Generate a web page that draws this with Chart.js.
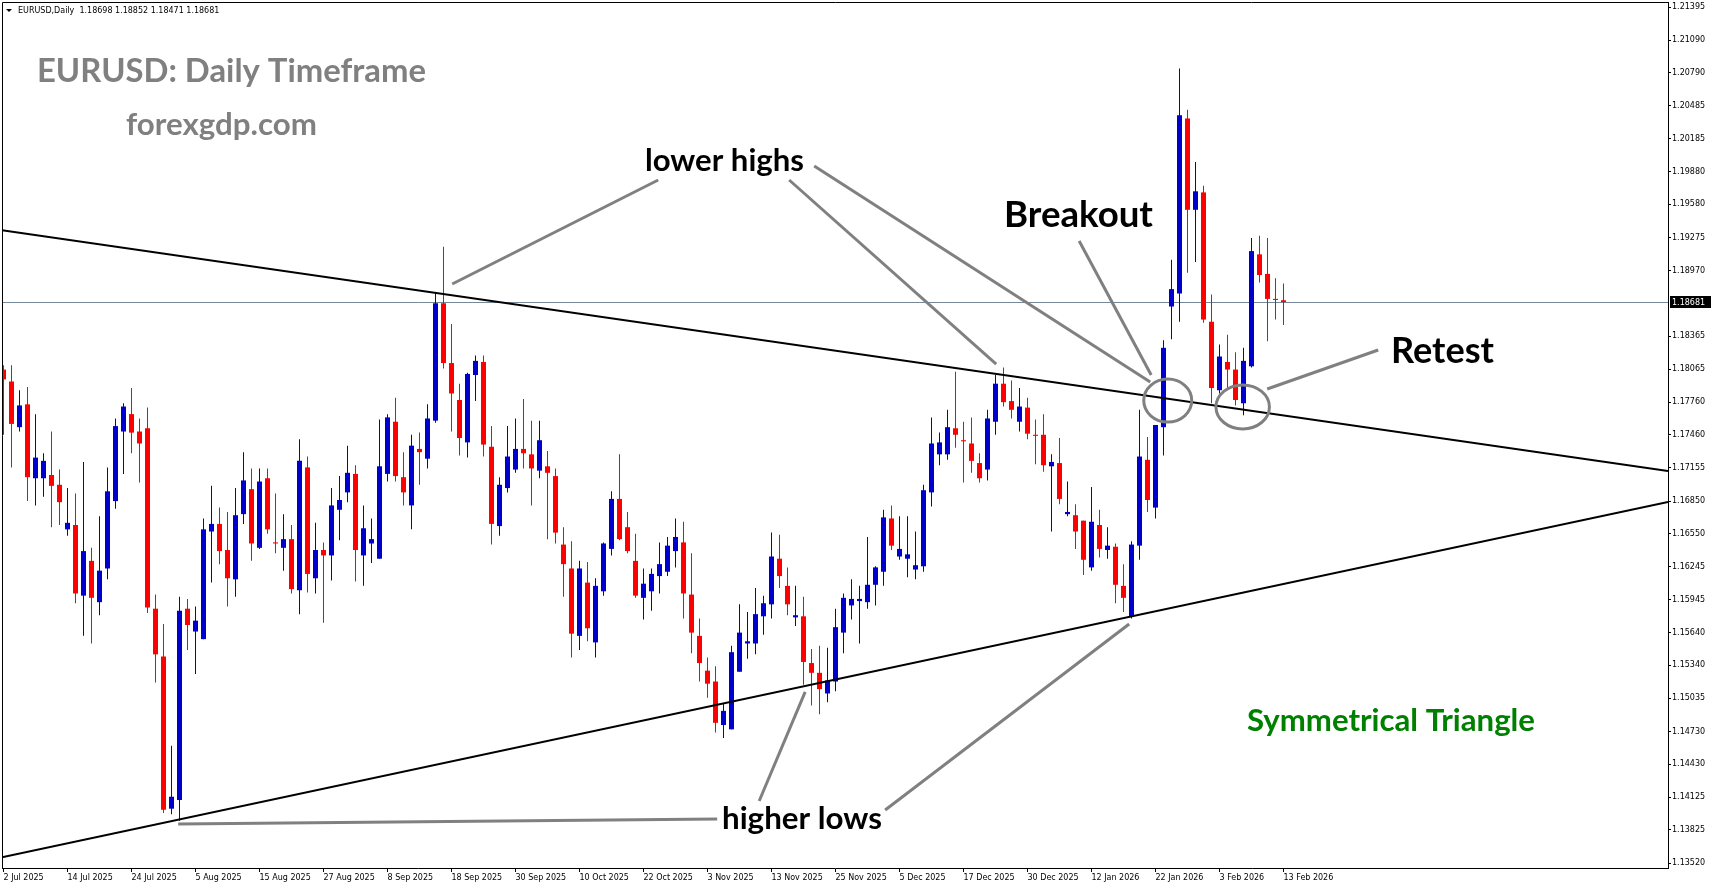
<!DOCTYPE html>
<html>
<head>
<meta charset="utf-8">
<title>EURUSD Daily - Symmetrical Triangle</title>
<script src="https://cdn.jsdelivr.net/npm/chart.js"></script>
<style>
  html, body { margin: 0; padding: 0; background: #fff; overflow: hidden; }
  canvas { display: block; }
</style>
</head>
<body>
<canvas id="chart" width="1713" height="888"></canvas>
<script>
// daily candles, 2 Jul 2025 .. 13 Feb 2026
const opens = [
  1.1806, 1.1795, 1.1753, 1.1774, 1.1706, 1.1706, 1.1709, 1.1700, 1.1659, 1.1663,
  1.1598, 1.1630, 1.1592, 1.1623, 1.1685, 1.1749, 1.1765, 1.1749, 1.1752, 1.1586,
  1.1542, 1.1402, 1.1410, 1.1586, 1.1565, 1.1558, 1.1657, 1.1664, 1.1640, 1.1613,
  1.1673, 1.1696, 1.1642, 1.1706, 1.1647, 1.1642, 1.1650, 1.1603, 1.1716, 1.1614,
  1.1640, 1.1635, 1.1677, 1.1693, 1.1710, 1.1635, 1.1646, 1.1632, 1.1710, 1.1758,
  1.1707, 1.1681, 1.1733, 1.1724, 1.1759, 1.1867, 1.1812, 1.1778, 1.1739, 1.1801,
  1.1813, 1.1735, 1.1662, 1.1697, 1.1714, 1.1733, 1.1728, 1.1713, 1.1717, 1.1708,
  1.1645, 1.1623, 1.1561, 1.1610, 1.1555, 1.1602, 1.1641, 1.1687, 1.1661, 1.1630,
  1.1596, 1.1602, 1.1616, 1.1620, 1.1639, 1.1647, 1.1599, 1.1561, 1.1529, 1.1519,
  1.1479, 1.1475, 1.1528, 1.1554, 1.1554, 1.1579, 1.1590, 1.1632, 1.1607, 1.1578,
  1.1579, 1.1536, 1.1527, 1.1508, 1.1519, 1.1564, 1.1589, 1.1593, 1.1592, 1.1608,
  1.1620, 1.1669, 1.1634, 1.1632, 1.1622, 1.1625, 1.1693, 1.1728, 1.1728, 1.1752,
  1.1741, 1.1738, 1.1720, 1.1714, 1.1758, 1.1793, 1.1777, 1.1758, 1.1771, 1.1746,
  1.1746, 1.1717, 1.1720, 1.1673, 1.1672, 1.1667, 1.1624, 1.1663, 1.1640, 1.1643,
  1.1607, 1.1579, 1.1644, 1.1723, 1.1679, 1.1753, 1.1864, 1.1876, 1.2037, 1.1953,
  1.1969, 1.1850, 1.1787, 1.1813, 1.1806, 1.1775, 1.1809, 1.1912, 1.1894, 1.1871,
  1.18698
];
const highs = [
  1.1810, 1.1810, 1.1787, 1.1790, 1.1765, 1.1729, 1.1749, 1.1714, 1.1697, 1.1692,
  1.1721, 1.1642, 1.1671, 1.1716, 1.1761, 1.1775, 1.1789, 1.1761, 1.1771, 1.1599,
  1.1572, 1.1460, 1.1597, 1.1595, 1.1588, 1.1669, 1.1699, 1.1679, 1.1675, 1.1697,
  1.1730, 1.1715, 1.1715, 1.1715, 1.1692, 1.1673, 1.1663, 1.1742, 1.1726, 1.1665,
  1.1647, 1.1697, 1.1708, 1.1736, 1.1718, 1.1681, 1.1669, 1.1760, 1.1765, 1.1780,
  1.1730, 1.1746, 1.1748, 1.1774, 1.1877, 1.1919, 1.1848, 1.1793, 1.1803, 1.1819,
  1.1819, 1.1754, 1.1707, 1.1754, 1.1761, 1.1779, 1.1759, 1.1759, 1.1731, 1.1715,
  1.1661, 1.1648, 1.1630, 1.1629, 1.1614, 1.1647, 1.1694, 1.1728, 1.1675, 1.1655,
  1.1623, 1.1623, 1.1647, 1.1652, 1.1669, 1.1666, 1.1637, 1.1577, 1.1541, 1.1533,
  1.1499, 1.1552, 1.1590, 1.1583, 1.1605, 1.1598, 1.1656, 1.1654, 1.1624, 1.1607,
  1.1597, 1.1549, 1.1552, 1.1550, 1.1586, 1.1600, 1.1613, 1.1607, 1.1652, 1.1625,
  1.1677, 1.1681, 1.1671, 1.1671, 1.1657, 1.1700, 1.1762, 1.1748, 1.1769, 1.1804,
  1.1758, 1.1762, 1.1729, 1.1769, 1.1801, 1.1808, 1.1796, 1.1789, 1.1780, 1.1760,
  1.1765, 1.1728, 1.1743, 1.1703, 1.1682, 1.1667, 1.1698, 1.1677, 1.1661, 1.1646,
  1.1627, 1.1648, 1.1769, 1.1744, 1.1755, 1.1833, 1.1907, 1.2083, 1.2045, 1.1997,
  1.1975, 1.1875, 1.1829, 1.1838, 1.1822, 1.1826, 1.1927, 1.1929, 1.1927, 1.1890,
  1.18852
];
const lows = [
  1.1746, 1.1716, 1.1749, 1.1685, 1.1681, 1.1689, 1.1661, 1.1663, 1.1653, 1.1591,
  1.1561, 1.1554, 1.1580, 1.1613, 1.1678, 1.1710, 1.1729, 1.1702, 1.1582, 1.1518,
  1.1398, 1.1397, 1.1391, 1.1548, 1.1526, 1.1558, 1.1610, 1.1627, 1.1588, 1.1597,
  1.1664, 1.1630, 1.1641, 1.1655, 1.1637, 1.1621, 1.1600, 1.1581, 1.1601, 1.1600,
  1.1573, 1.1612, 1.1649, 1.1684, 1.1611, 1.1607, 1.1628, 1.1632, 1.1703, 1.1703,
  1.1681, 1.1659, 1.1700, 1.1715, 1.1757, 1.1807, 1.1749, 1.1727, 1.1725, 1.1777,
  1.1726, 1.1645, 1.1653, 1.1693, 1.1711, 1.1715, 1.1681, 1.1706, 1.1650, 1.1646,
  1.1597, 1.1541, 1.1548, 1.1556, 1.1541, 1.1598, 1.1635, 1.1649, 1.1637, 1.1596,
  1.1576, 1.1584, 1.1600, 1.1616, 1.1624, 1.1577, 1.1545, 1.1519, 1.1504, 1.1472,
  1.1467, 1.1475, 1.1528, 1.1540, 1.1544, 1.1562, 1.1577, 1.1605, 1.1580, 1.1570,
  1.1516, 1.1497, 1.1489, 1.1500, 1.1510, 1.1545, 1.1576, 1.1554, 1.1586, 1.1589,
  1.1607, 1.1640, 1.1631, 1.1615, 1.1613, 1.1620, 1.1680, 1.1718, 1.1723, 1.1734,
  1.1702, 1.1711, 1.1702, 1.1704, 1.1746, 1.1772, 1.1761, 1.1749, 1.1742, 1.1719,
  1.1712, 1.1657, 1.1682, 1.1671, 1.1641, 1.1617, 1.1621, 1.1633, 1.1632, 1.1591,
  1.1583, 1.1577, 1.1631, 1.1675, 1.1669, 1.1727, 1.1834, 1.1850, 1.1895, 1.1905,
  1.1849, 1.1775, 1.1784, 1.1788, 1.1773, 1.1764, 1.1808, 1.1886, 1.1832, 1.1852,
  1.18471
];
const closes = [
  1.1797, 1.1756, 1.1773, 1.1707, 1.1725, 1.1722, 1.1699, 1.1684, 1.1665, 1.1600,
  1.1639, 1.1596, 1.1621, 1.1694, 1.1754, 1.1772, 1.1748, 1.1738, 1.1587, 1.1544,
  1.1401, 1.1413, 1.1584, 1.1571, 1.1575, 1.1659, 1.1664, 1.1639, 1.1614, 1.1672,
  1.1704, 1.1646, 1.1703, 1.1659, 1.1646, 1.1650, 1.1604, 1.1722, 1.1618, 1.1640,
  1.1635, 1.1681, 1.1686, 1.1711, 1.1640, 1.1660, 1.1650, 1.1717, 1.1762, 1.1708,
  1.1693, 1.1736, 1.1730, 1.1761, 1.1867, 1.1812, 1.1784, 1.1743, 1.1802, 1.1814,
  1.1737, 1.1664, 1.1700, 1.1726, 1.1733, 1.1729, 1.1715, 1.1741, 1.1711, 1.1656,
  1.1627, 1.1563, 1.1623, 1.1568, 1.1607, 1.1646, 1.1687, 1.1650, 1.1639, 1.1598,
  1.1609, 1.1618, 1.1627, 1.1644, 1.1652, 1.1600, 1.1564, 1.1536, 1.1517, 1.1481,
  1.1492, 1.1546, 1.1564, 1.1556, 1.1581, 1.1591, 1.1634, 1.1616, 1.1590, 1.1580,
  1.1537, 1.1527, 1.1512, 1.1520, 1.1569, 1.1596, 1.1595, 1.1595, 1.1608, 1.1624,
  1.1670, 1.1644, 1.1641, 1.1636, 1.1626, 1.1695, 1.1738, 1.1739, 1.1753, 1.1746,
  1.1740, 1.1722, 1.1706, 1.1761, 1.1793, 1.1776, 1.1769, 1.1772, 1.1747, 1.1745,
  1.1718, 1.1721, 1.1687, 1.1675, 1.1657, 1.1631, 1.1666, 1.1641, 1.1644, 1.1608,
  1.1596, 1.1645, 1.1726, 1.1686, 1.1755, 1.1826, 1.1880, 1.2040, 1.1953, 1.1970,
  1.1852, 1.1789, 1.1818, 1.1806, 1.1778, 1.1814, 1.1915, 1.1893, 1.1871, 1.1870,
  1.18681
];

// one date label every 8 bars
const tickStep = 8;
const dateTicks = [
  '2 Jul 2025', '14 Jul 2025', '24 Jul 2025', '5 Aug 2025', '15 Aug 2025', '27 Aug 2025',
  '8 Sep 2025', '18 Sep 2025', '30 Sep 2025', '10 Oct 2025', '22 Oct 2025', '3 Nov 2025',
  '13 Nov 2025', '25 Nov 2025', '5 Dec 2025', '17 Dec 2025', '30 Dec 2025', '12 Jan 2026',
  '22 Jan 2026', '3 Feb 2026', '13 Feb 2026'
];
const priceTicks = [
  1.21395, 1.21090, 1.20790, 1.20485, 1.20185, 1.19880, 1.19580, 1.19275, 1.18970,
  1.18365, 1.18065, 1.17760, 1.17460, 1.17155, 1.16850, 1.16550, 1.16245, 1.15945,
  1.15640, 1.15340, 1.15035, 1.14730, 1.14430, 1.14125, 1.13825, 1.13520
];

// drawing objects, in bar index / price units
const trendLines = [
  { from: [0, 1.19339], to: [200, 1.17212] },
  { from: [0, 1.13577], to: [200, 1.16715] }
];
const pointers = [
  [[56.09, 1.18847], [81.84, 1.19804]],
  [[98.21, 1.19804], [124.09, 1.18111]],
  [[101.34, 1.19933], [143.34, 1.17946]],
  [[134.46, 1.19243], [143.46, 1.18010]],
  [[157.96, 1.17881], [171.84, 1.18240]],
  [[21.84, 1.13879], [89.21, 1.13925]],
  [[94.46, 1.14091], [100.21, 1.15094]],
  [[110.21, 1.14008], [140.71, 1.15719]]
];
const circles = [
  { at: [145.53, 1.17775], rx: 3.0, ry: 0.00198 },
  { at: [154.9, 1.17716], rx: 3.34, ry: 0.00202 }
];
const notes = [
  { text: 'EURUSD: Daily Timeframe', x: 37, y: 82, w: 389, color: '#808080' },
  { text: 'forexgdp.com', x: 126, y: 135, w: 191, color: '#808080' },
  { text: 'lower highs', x: 645, y: 171, w: 159, color: '#000000' },
  { text: 'Breakout', x: 1004, y: 227, w: 149, color: '#000000' },
  { text: 'Retest', x: 1391, y: 363, w: 103, color: '#000000' },
  { text: 'higher lows', x: 722, y: 829, w: 160, color: '#000000' },
  { text: 'Symmetrical Triangle', x: 1247, y: 731, w: 288, color: '#008000' }
];

const BULL = '#0000cd';
const BEAR = '#ff0000';
const smallFont = '8px "DejaVu Sans"';

const candleColors = closes.map((c, i) => c >= opens[i] ? BULL : BEAR);
const wickData = highs.map((h, i) => ({ x: i, y: [lows[i], h] }));
const bodyData = opens.map((o, i) => ({ x: i, y: [Math.min(o, closes[i]), Math.max(o, closes[i])] }));

function fitNote(ctx, n) {
  ctx.font = 'bold 30px Lato';
  const size = 30 * n.w / ctx.measureText(n.text).width;
  ctx.font = 'bold ' + size.toFixed(2) + 'px Lato';
  ctx.fillStyle = n.color;
  ctx.textAlign = 'left';
  ctx.textBaseline = 'alphabetic';
  ctx.fillText(n.text, n.x, n.y);
}

const overlay = {
  id: 'overlay',
  beforeDatasetsDraw(chart) {
    const { ctx, chartArea: a, scales: { y } } = chart;
    const yp = Math.round(y.getPixelForValue(closes[closes.length - 1])) + 0.5;
    ctx.save();
    ctx.strokeStyle = '#778899';
    ctx.lineWidth = 1;
    ctx.beginPath();
    ctx.moveTo(a.left, yp);
    ctx.lineTo(a.right, yp);
    ctx.stroke();
    ctx.restore();
  },
  afterDatasetsDraw(chart) {
    const { ctx, chartArea: a, scales: { x, y } } = chart;
    const px = p => [x.getPixelForValue(p[0]), y.getPixelForValue(p[1])];
    ctx.save();
    ctx.beginPath();
    ctx.rect(a.left, a.top, a.right - a.left, a.bottom - a.top);
    ctx.clip();

    ctx.strokeStyle = '#000';
    ctx.lineWidth = 2;
    trendLines.forEach(t => {
      const [x1, y1] = px(t.from);
      const [x2, y2] = px(t.to);
      const k = (y2 - y1) / (x2 - x1);
      ctx.beginPath();
      ctx.moveTo(a.left, y1 + k * (a.left - x1));
      ctx.lineTo(a.right, y1 + k * (a.right - x1));
      ctx.stroke();
    });

    ctx.strokeStyle = '#808080';
    ctx.lineWidth = 3;
    pointers.forEach(seg => {
      const [x1, y1] = px(seg[0]);
      const [x2, y2] = px(seg[1]);
      ctx.beginPath();
      ctx.moveTo(x1, y1);
      ctx.lineTo(x2, y2);
      ctx.stroke();
    });
    circles.forEach(c => {
      const [cx, cy] = px(c.at);
      const rx = Math.abs(x.getPixelForValue(c.at[0] + c.rx) - cx);
      const ry = Math.abs(y.getPixelForValue(c.at[1] + c.ry) - cy);
      ctx.beginPath();
      ctx.ellipse(cx, cy, rx, ry, 0, 0, Math.PI * 2);
      ctx.stroke();
    });
    ctx.restore();
  },
  afterDraw(chart) {
    const { ctx, chartArea: a, scales: { y } } = chart;
    ctx.save();

    // frame on the left and top edges
    ctx.strokeStyle = '#000';
    ctx.lineWidth = 1;
    ctx.beginPath();
    ctx.moveTo(a.left + 0.5, a.bottom);
    ctx.lineTo(a.left + 0.5, a.top + 0.5);
    ctx.lineTo(a.right, a.top + 0.5);
    ctx.stroke();

    notes.forEach(n => fitNote(ctx, n));

    // header line
    ctx.fillStyle = '#000';
    ctx.beginPath();
    ctx.moveTo(6, 9);
    ctx.lineTo(12, 9);
    ctx.lineTo(9, 12);
    ctx.closePath();
    ctx.fill();
    const last = closes.length - 1;
    ctx.font = smallFont;
    ctx.textBaseline = 'middle';
    ctx.textAlign = 'left';
    ctx.fillText('EURUSD,Daily  ' + [opens[last], highs[last], lows[last], closes[last]].map(v => v.toFixed(5)).join(' '), 18, 10.5);

    // current price box on the axis
    const yp = Math.round(y.getPixelForValue(closes[last]));
    ctx.fillRect(a.right + 2, yp - 6, 41, 12);
    ctx.fillStyle = '#fff';
    ctx.fillText(closes[last].toFixed(5), a.right + 4, yp + 0.5);
    ctx.restore();
  }
};

new Chart(document.getElementById('chart'), {
  type: 'bar',
  data: {
    datasets: [
      { label: 'wick', data: wickData, backgroundColor: candleColors, barThickness: 1, grouped: false, inflateAmount: 0, borderWidth: 0 },
      { label: 'body', data: bodyData, backgroundColor: candleColors, barThickness: 5, grouped: false, inflateAmount: 0, borderWidth: 0, minBarLength: 1 }
    ]
  },
  options: {
    responsive: false,
    animation: false,
    devicePixelRatio: 1,
    layout: { padding: { top: 2, left: 2, right: 0, bottom: 0 } },
    plugins: { legend: { display: false }, tooltip: { enabled: false } },
    scales: {
      x: {
        type: 'linear',
        min: -0.1875,
        max: 208.0625,
        offset: false,
        grid: { drawOnChartArea: false, drawTicks: true, tickLength: 4, color: '#000', offset: false },
        border: { color: '#000' },
        ticks: {
          autoSkip: false, maxRotation: 0, align: 'start', padding: 1, color: '#000',
          font: { family: 'DejaVu Sans', size: 8 },
          callback: v => dateTicks[Math.round(v / tickStep)]
        },
        afterBuildTicks: s => { s.ticks = dateTicks.map((d, k) => ({ value: k * tickStep })); },
        afterFit: s => { s.height = 20; s.paddingLeft = 0; s.paddingRight = 0; }
      },
      y: {
        position: 'right',
        min: 1.134744,
        max: 1.214416,
        beginAtZero: false,
        grid: { drawOnChartArea: false, drawTicks: true, tickLength: 3, color: '#000' },
        border: { color: '#000' },
        ticks: {
          autoSkip: false, padding: 1, color: '#000',
          font: { family: 'DejaVu Sans', size: 8 },
          callback: v => Number(v).toFixed(5)
        },
        afterBuildTicks: s => { s.ticks = priceTicks.map(v => ({ value: v })); },
        afterFit: s => { s.width = 45; s.paddingTop = 0; s.paddingBottom = 0; }
      }
    }
  },
  plugins: [overlay]
});
</script>
</body>
</html>
